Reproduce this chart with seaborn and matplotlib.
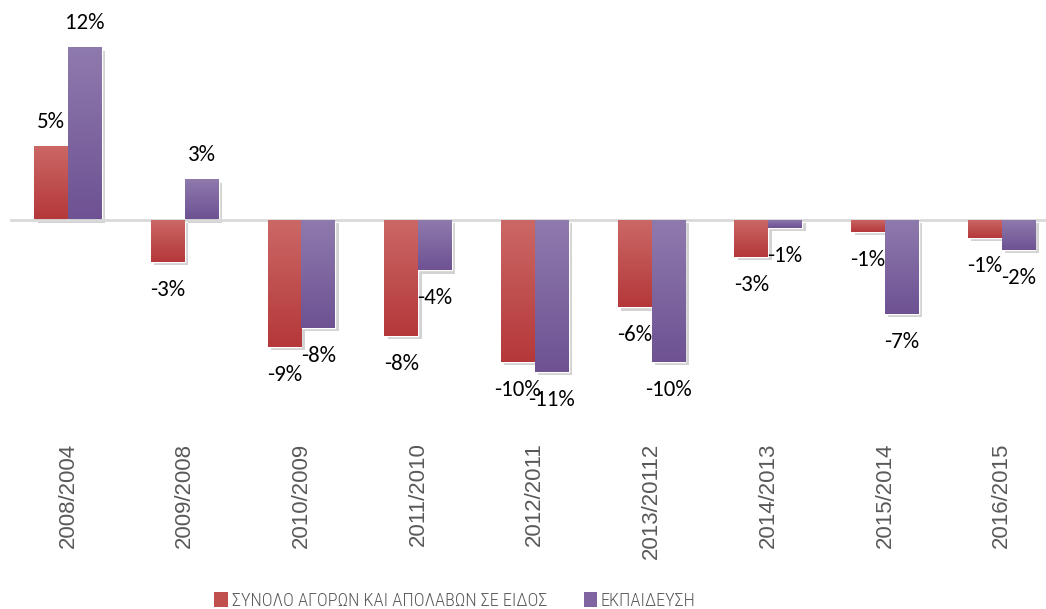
import numpy as np
import pandas as pd
import matplotlib
matplotlib.use("Agg")
import matplotlib.pyplot as plt
import matplotlib.patheffects as pe
from matplotlib.colors import to_rgb
from matplotlib.patches import Patch
import seaborn as sns

periods = ["2008/2004", "2009/2008", "2010/2009", "2011/2010", "2012/2011",
           "2013/20112", "2014/2013", "2015/2014", "2016/2015"]
series_names = ["ΣΥΝΟΛΟ ΑΓΟΡΩΝ ΚΑΙ ΑΠΟΛΑΒΩΝ ΣΕ ΕΙΔΟΣ", "ΕΚΠΑΙΔΕΥΣΗ"]
total_vals = [5.1, -2.95, -8.85, -8.1, -9.9, -6.1, -2.6, -0.87, -1.27]
edu_vals = [12.0, 2.8, -7.55, -3.55, -10.6, -9.9, -0.57, -6.55, -2.1]

base_colors = ["#C0504D", "#8064A2"]
top_colors = ["#CB6866", "#8F7AAD"]
bottom_colors = ["#B5383A", "#6E5293"]

df = pd.DataFrame({
    "period": periods * 2,
    "series": [series_names[0]] * len(periods) + [series_names[1]] * len(periods),
    "value": total_vals + edu_vals,
})

sns.set_style("white")
W, H = 1046, 609
fig = plt.figure(figsize=(W / 100, H / 100), dpi=100)
ax_left, ax_right = 9.6, 1060
ax_top, ax_bottom = 30, 430
ax = fig.add_axes([ax_left / W, 1 - ax_bottom / H, (ax_right - ax_left) / W, (ax_bottom - ax_top) / H])

sns.barplot(data=df, x="period", y="value", hue="series", palette=base_colors,
            width=0.58, ax=ax, legend=False, saturation=1)

zero_px = 219.5
scale = 14.36
ylim = (-(ax_bottom - zero_px) / scale, (zero_px - ax_top) / scale)
xlim = (-0.5, 8.5)


def pct(v):
    return f"{int(np.sign(v) * np.floor(abs(v) + 0.5))}%"


n = len(periods)
for i, patch in enumerate(ax.patches[:2 * n]):
    s = i // n
    x0, w = patch.get_x(), patch.get_width()
    y0, h = patch.get_y(), patch.get_height()
    lo, hi = min(y0, y0 + h), max(y0, y0 + h)
    patch.set_path_effects([pe.SimplePatchShadow(offset=(2.5, -2.5), shadow_rgbFace=(0.5, 0.5, 0.5), alpha=0.35),
                            pe.Normal()])
    c1, c2 = np.array(to_rgb(top_colors[s])), np.array(to_rgb(bottom_colors[s]))
    t = np.linspace(0, 1, 64)[:, None, None]
    grad = c1 * (1 - t) + c2 * t
    im = ax.imshow(grad, extent=(x0, x0 + w, lo, hi), origin="upper", aspect="auto", zorder=patch.get_zorder() + 0.1)
    im.set_clip_path(patch)
    val = total_vals[i % n] if s == 0 else edu_vals[i % n]
    off = 24 if val >= 0 else -28
    ax.annotate(pct(val), (x0 + w / 2, hi if val >= 0 else lo),
                xytext=(0, off), textcoords="offset pixels", ha="center", va="center",
                fontsize=16.5, family="Carlito", color="#000000", zorder=10)

ax.axhline(0, color="#D9D9D9", lw=2, zorder=1)
ax.set_xlim(*xlim)
ax.set_ylim(*ylim)
ax.set_xlabel("")
ax.set_ylabel("")
ax.set_yticks([])
for sp in ax.spines.values():
    sp.set_visible(False)
ax.tick_params(axis="x", length=0, pad=9, labelsize=16, labelcolor="#595959", rotation=90)
for lbl in ax.get_xticklabels():
    lbl.set_family("Liberation Sans")
    lbl.set_va("top")

handles = [Patch(facecolor=base_colors[k], edgecolor="none") for k in range(2)]
fig.legend(handles, series_names, loc="center", bbox_to_anchor=(455 / W, 1 - 601 / H), ncol=2,
           frameon=False, handlelength=0.75, handleheight=0.9, handletextpad=0.2, columnspacing=2.0,
           prop={"family": "Roboto Condensed", "size": 13.2, "weight": "light"},
           labelcolor="#595959")

fig.savefig("out.png", dpi=100)
